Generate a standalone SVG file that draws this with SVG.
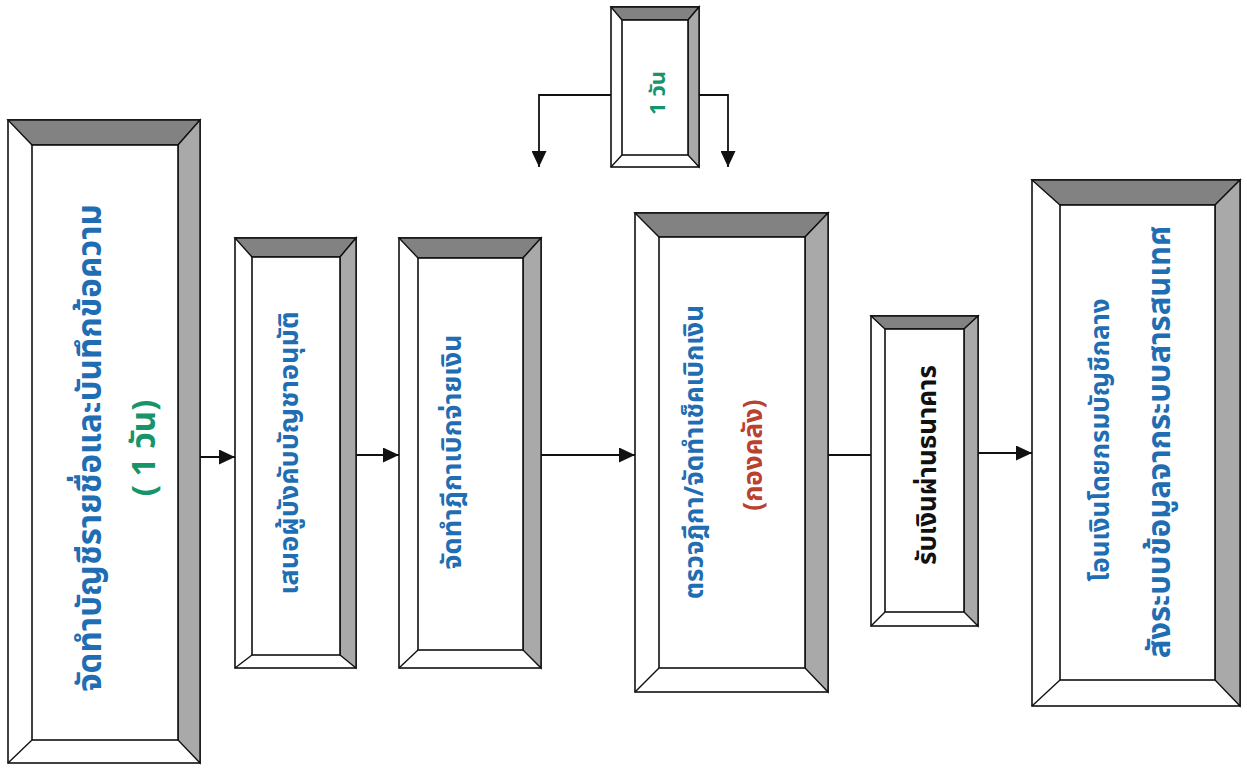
<svg xmlns="http://www.w3.org/2000/svg" width="1247" height="770" viewBox="0 0 1247 770">
<defs>
<marker id="ah" viewBox="0 0 10 10" refX="10" refY="5" markerWidth="16" markerHeight="15" markerUnits="userSpaceOnUse" orient="auto" preserveAspectRatio="none">
<path d="M0,0 L10,5 L0,10 Z" fill="#111"/>
</marker>
<style>
.outer{fill:#fff;stroke:#111;stroke-width:1.6}
.tb{fill:#828282;stroke:#111;stroke-width:1.4}
.rb{fill:#a9a9a9;stroke:#111;stroke-width:1.4}
.inner{fill:#fff;stroke:#111;stroke-width:1.6}
.dg{stroke:#111;stroke-width:1.4}
.t{font-family:"Noto Sans Thai","Loma","Garuda","Norasi","Tlwg Typo","DejaVu Sans",sans-serif;font-weight:bold;font-size:26px;text-anchor:middle}
.big{font-size:33px}
.blue{fill:#1f6db3}
.green{fill:#17946a}
.red{fill:#b8412f}
.black{fill:#111}
.conn{stroke:#111;stroke-width:1.8;fill:none}
</style>
</defs>
<rect width="1247" height="770" fill="#fff"/>

<g id="node1">
<rect class="outer" x="8" y="120" width="192" height="643"/>
<polygon class="tb" points="8,120 200,120 178,145 32,145"/>
<polygon class="rb" points="200,120 200,763 178,740 178,145"/>
<rect class="inner" x="32" y="145" width="146" height="595"/>
<line class="dg" x1="8" y1="763" x2="32" y2="740"/>
<text class="t big blue" transform="translate(101,448) rotate(-90)">จัดทำบัญชีรายชื่อและบันทึกข้อความ</text>
<text class="t big green" transform="translate(155,448) rotate(-90)">( 1 วัน)</text>
</g>

<g id="node2">
<rect class="outer" x="235" y="238" width="121" height="430"/>
<polygon class="tb" points="235,238 356,238 340,257 252,257"/>
<polygon class="rb" points="356,238 356,668 340,655 340,257"/>
<rect class="inner" x="252" y="257" width="88" height="398"/>
<line class="dg" x1="235" y1="668" x2="252" y2="655"/>
<text class="t blue" transform="translate(298,453) rotate(-90)" style="font-size:27px">เสนอผู้บังคับบัญชาอนุมัติ</text>
</g>

<g id="node3">
<rect class="outer" x="399" y="238" width="142" height="430"/>
<polygon class="tb" points="399,238 541,238 523,258 418,258"/>
<polygon class="rb" points="541,238 541,668 523,650 523,258"/>
<rect class="inner" x="418" y="258" width="105" height="392"/>
<line class="dg" x1="399" y1="668" x2="418" y2="650"/>
<text class="t blue" transform="translate(461,452) rotate(-90)" style="font-size:27px">จัดทำฎีกาเบิกจ่ายเงิน</text>
</g>

<g id="node4">
<rect class="outer" x="635" y="213" width="193" height="479"/>
<polygon class="tb" points="635,213 828,213 805,237 659,237"/>
<polygon class="rb" points="828,213 828,692 805,668 805,237"/>
<rect class="inner" x="659" y="237" width="146" height="431"/>
<line class="dg" x1="635" y1="692" x2="659" y2="668"/>
<text class="t blue" transform="translate(703,452) rotate(-90)">ตรวจฎีกา/จัดทำเช็คเบิกเงิน</text>
<text class="t red" transform="translate(762,455) rotate(-90)">(กองคลัง)</text>
</g>

<g id="node5">
<rect class="outer" x="871" y="316" width="107" height="310"/>
<polygon class="tb" points="871,316 978,316 964,329 885,329"/>
<polygon class="rb" points="978,316 978,626 964,612 964,329"/>
<rect class="inner" x="885" y="329" width="79" height="283"/>
<line class="dg" x1="871" y1="626" x2="885" y2="612"/>
<text class="t black" transform="translate(936,465) rotate(-90)">รับเงินผ่านธนาคาร</text>
</g>

<g id="node6">
<rect class="outer" x="1032" y="180" width="208" height="526"/>
<polygon class="tb" points="1032,180 1240,180 1215,205 1060,205"/>
<polygon class="rb" points="1240,180 1240,706 1215,680 1215,205"/>
<rect class="inner" x="1060" y="205" width="155" height="475"/>
<line class="dg" x1="1032" y1="706" x2="1060" y2="680"/>
<text class="t blue" transform="translate(1109,440) rotate(-90)">โอนเงินโดยกรมบัญชีกลาง</text>
<text class="t blue" transform="translate(1170,442) rotate(-90)" style="font-size:31px">สังระบบข้อมูลจากระบบสารสนเทศ</text>
</g>

<g id="node7">
<rect class="outer" x="611" y="7" width="88" height="160"/>
<polygon class="tb" points="611,7 699,7 688,20 622,20"/>
<polygon class="rb" points="699,7 699,167 688,155 688,20"/>
<rect class="inner" x="622" y="20" width="66" height="135"/>
<line class="dg" x1="611" y1="167" x2="622" y2="155"/>
<text class="t green" transform="translate(665,93) rotate(-90)" style="font-size:22px">1 วัน</text>
</g>

<g id="connectors">
<path class="conn" d="M200,457 H235" marker-end="url(#ah)"/>
<path class="conn" d="M356,455 H399" marker-end="url(#ah)"/>
<path class="conn" d="M541,455 H635" marker-end="url(#ah)"/>
<path class="conn" d="M828,455 H871"/>
<path class="conn" d="M978,453 H1032" marker-end="url(#ah)"/>
<path class="conn" d="M611,95 H539 V167" marker-end="url(#ah)"/>
<path class="conn" d="M699,95 H728 V167" marker-end="url(#ah)"/>
</g>
</svg>
